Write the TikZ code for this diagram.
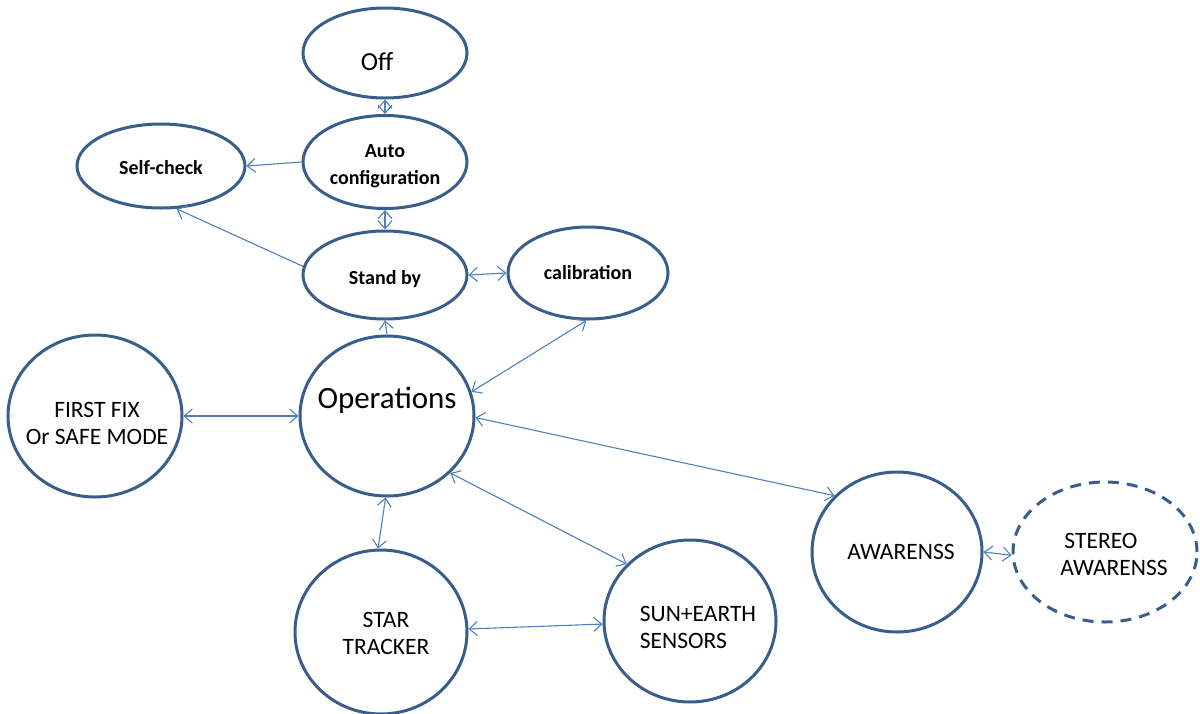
\documentclass[tikz,border=0pt]{standalone}
\usepackage{fontspec}
\setmainfont{Carlito}
\usetikzlibrary{shapes.geometric,arrows.meta}
\definecolor{ringblue}{HTML}{3A5E8C}
\definecolor{linkblue}{HTML}{4F81BD}
\begin{document}
\begin{tikzpicture}[x=1pt,y=-1pt,
  state/.style={ellipse,draw=ringblue,line width=3pt,fill=white,inner sep=0pt},
  caption/.style={align=center,text=black,inner sep=0pt},
  small/.style={caption,font=\bfseries\fontsize{20}{27}\selectfont},
  big/.style={caption,font=\fontsize{23.5}{27}\selectfont},
  link/.style={draw=linkblue,line width=1.1pt,{Straight Barb[length=8pt,width=14pt]}-{Straight Barb[length=8pt,width=14pt]}},
  oneway/.style={draw=linkblue,line width=1.1pt,-{Straight Barb[length=8pt,width=14pt]}}]
\useasboundingbox (0,0) rectangle (1200,713);
\fill[white] (0,0) rectangle (1200,713);

% mode outlines
\node[state,minimum width=164pt,minimum height=90pt] (off) at (385,53) {};
\node[state,minimum width=164pt,minimum height=93pt] (auto) at (385,162) {};
\node[state,minimum width=168pt,minimum height=84pt] (self) at (161,166) {};
\node[state,minimum width=164pt,minimum height=88pt] (standby) at (385,275) {};
\node[state,minimum width=160pt,minimum height=92pt] (calib) at (588,273) {};
\node[state,minimum width=174pt,minimum height=162pt] (first) at (95,416) {};
\node[state,minimum width=174pt,minimum height=160pt] (ops) at (387,416) {};
\node[state,minimum width=172pt,minimum height=164pt] (star) at (381,632) {};
\node[state,minimum width=172pt,minimum height=162pt] (sun) at (690,621) {};
\node[state,minimum width=170pt,minimum height=160pt] (aware) at (897,552) {};
\node[state,dashed,dash pattern=on 11pt off 8pt,minimum width=184pt,minimum height=140pt] (stereo) at (1105,552) {};

% mode names
\node[caption,font=\fontsize{26}{30}\selectfont] (off-t) at (377,62) {Off};
\node[small] (auto-t) at (385,166) {Auto\\configuration};
\node[small] (self-t) at (161,168) {Self-check};
\node[small] (standby-t) at (385,279) {Stand by};
\node[small] (calib-t) at (588,273) {calibration};
\node[big] (first-t) at (97,423) {FIRST FIX\\Or SAFE MODE};
\node[caption,font=\fontsize{31}{36}\selectfont] (ops-t) at (387,400) {Operations};
\node[big] (star-t) at (386,633) {STAR\\TRACKER};
\node[big,align=left] (sun-t) at (698,627) {SUN+EARTH\\SENSORS};
\node[big] (aware-t) at (901,552) {AWARENSS};
\node[big,align=left] (stereo-t) at (1114,554) {\hspace{4pt}STEREO\\AWARENSS};

% transitions
\draw[link] (off.south) -- (auto.north);
\draw[link] (auto.south) -- (standby.north);
\draw[oneway] (auto.west) -- (self.east);
\draw[oneway] (standby.174) -- (self.290);
\draw[link] (standby.east) -- (calib.west);
\draw[oneway] (ops.north) -- (standby.south);
\draw[link] (calib.268) -- (ops.16);
\draw[link] (first.east) -- (ops.west);
\draw[link] (ops.-1) -- (aware.138);
\draw[link] (ops.-42) -- (sun.138);
\draw[link] (ops.269) -- (star.92);
\draw[link] (star.2) -- (sun.182);
\draw[link] (aware.east) -- (stereo.182);
\end{tikzpicture}
\end{document}
